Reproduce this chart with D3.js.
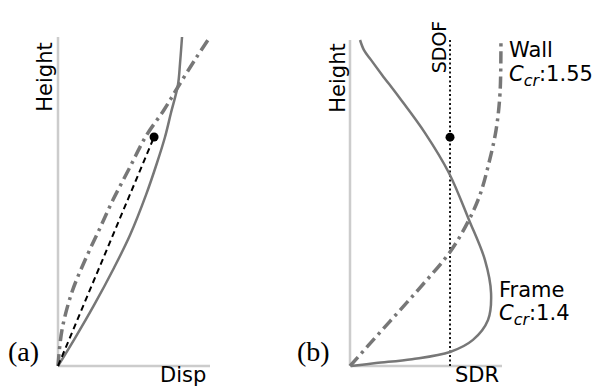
<!DOCTYPE html>
<html>
<head>
<meta charset="utf-8">
<script src="https://cdn.jsdelivr.net/npm/d3@7"></script>
<style>
  body { margin: 0; background: #fff; }
  svg { display: block; }
  .lbl { font-family: "DejaVu Sans", sans-serif; font-size: 21px; fill: #000; }
  .tag { font-family: "Liberation Serif", serif; font-size: 28px; fill: #000; }
</style>
</head>
<body>
<svg id="chart" width="598" height="389"></svg>
<script>
// ======================
// DATA  [displacement, height] (normalised 0..1)
// ======================

// panel (a)
const aFrame = [[0, 0], [0.112, 0.085], [0.237, 0.185], [0.368, 0.298], [0.474, 0.398],
    [0.579, 0.520], [0.651, 0.617], [0.704, 0.696], [0.743, 0.769], [0.789, 0.854],
    [0.803, 0.921], [0.816, 1.0]];
const aWall = [[0, 0], [0.026, 0.109], [0.092, 0.225], [0.184, 0.328], [0.276, 0.419],
    [0.362, 0.505], [0.474, 0.605], [0.579, 0.699], [0.697, 0.778], [0.789, 0.848],
    [0.908, 0.936], [1.0, 1.0]];
const aSdof = [[0, 0], [0.632, 0.696]];
const aPoint = [0.632, 0.696];

// panel (b)
const bFrame = [[0.066, 1.0], [0.092, 0.969], [0.138, 0.939], [0.211, 0.893], [0.322, 0.825],
    [0.493, 0.715], [0.651, 0.592], [0.783, 0.448], [0.888, 0.325], [0.928, 0.224],
    [0.908, 0.141], [0.809, 0.080], [0.658, 0.043], [0.408, 0.021], [0.171, 0.009], [0.007, 0]];
const bWall = [[0, 0], [0.224, 0.117], [0.447, 0.233], [0.658, 0.350], [0.776, 0.442],
    [0.855, 0.525], [0.914, 0.623], [0.961, 0.724], [0.987, 0.837], [0.993, 1.0]];
const bSdofX = 0.658;
const bPoint = [0.658, 0.702];

const curveColor = "#777";
const axisColor = "#ccc";

const svg = d3.select("#chart");

// ======================
// PANEL FACTORY
// ======================

function makePanel(x0, x1, yTop) {
    const x = d3.scaleLinear().domain([0, 1]).range([x0, x1]);
    const y = d3.scaleLinear().domain([0, 1]).range([366, yTop]);
    const g = svg.append("g");

    // axes (plain lines, no ticks)
    g.append("line")
        .attr("x1", x(0)).attr("x2", x(0))
        .attr("y1", y(0)).attr("y2", y(1))
        .attr("stroke", axisColor).attr("stroke-width", 2.5);
    g.append("line")
        .attr("x1", x(0)).attr("x2", x(1))
        .attr("y1", y(0)).attr("y2", y(0))
        .attr("stroke", axisColor).attr("stroke-width", 2.5);

    const line = d3.line()
        .x(d => x(d[0]))
        .y(d => y(d[1]))
        .curve(d3.curveCatmullRom.alpha(0.5));

    return { x, y, g, line };
}

function drawSolid(p, data) {
    p.g.append("path")
        .attr("d", p.line(data))
        .attr("fill", "none")
        .attr("stroke", curveColor)
        .attr("stroke-width", 2.5);
}

function drawDashDot(p, data) {
    p.g.append("path")
        .attr("d", p.line(data))
        .attr("fill", "none")
        .attr("stroke", curveColor)
        .attr("stroke-width", 3.5)
        .attr("stroke-dasharray", "12,5,3,5");
}

function rotLabel(px, py, text, size) {
    svg.append("text")
        .attr("class", "lbl")
        .attr("text-anchor", "middle")
        .style("font-size", size ? size + "px" : null)
        .attr("transform", `translate(${px},${py}) rotate(-90)`)
        .text(text);
}

function ccrLabel(px, py, value) {
    const t = svg.append("text").attr("class", "lbl").attr("x", px).attr("y", py);
    t.append("tspan").attr("font-style", "italic").text("C");
    t.append("tspan").attr("font-style", "italic").attr("font-size", "16px").attr("dy", 5).text("cr");
    t.append("tspan").attr("dy", -5).text(":" + value);
}

// ======================
// PANEL (a)
// ======================

const pa = makePanel(58, 210, 37);
drawDashDot(pa, aWall);
drawSolid(pa, aFrame);
pa.g.append("path")
    .attr("d", d3.line().x(d => pa.x(d[0])).y(d => pa.y(d[1]))(aSdof))
    .attr("fill", "none")
    .attr("stroke", "#000")
    .attr("stroke-width", 2)
    .attr("stroke-dasharray", "6,4");
pa.g.append("circle")
    .attr("cx", pa.x(aPoint[0])).attr("cy", pa.y(aPoint[1]))
    .attr("r", 4.5).attr("fill", "#000");

rotLabel(52, 77, "Height");
svg.append("text").attr("class", "lbl").attr("x", 160).attr("y", 382).text("Disp");
svg.append("text").attr("class", "tag").attr("x", 8).attr("y", 361).text("(a)");

// ======================
// PANEL (b)
// ======================

const pb = makePanel(350, 502, 40);
pb.g.append("line")
    .attr("x1", pb.x(bSdofX)).attr("x2", pb.x(bSdofX))
    .attr("y1", pb.y(0)).attr("y2", pb.y(1))
    .attr("stroke", "#000")
    .attr("stroke-width", 1.8)
    .attr("stroke-dasharray", "2,2.5");
drawDashDot(pb, bWall);
drawSolid(pb, bFrame);
pb.g.append("circle")
    .attr("cx", pb.x(bPoint[0])).attr("cy", pb.y(bPoint[1]))
    .attr("r", 4.5).attr("fill", "#000");

rotLabel(345, 78, "Height");
rotLabel(446, 47, "SDOF", 19);
svg.append("text").attr("class", "lbl").attr("x", 455).attr("y", 382).text("SDR");
svg.append("text").attr("class", "tag").attr("x", 297).attr("y", 361).text("(b)");

svg.append("text").attr("class", "lbl").attr("x", 509).attr("y", 57).text("Wall");
ccrLabel(509, 81, "1.55");
svg.append("text").attr("class", "lbl").attr("x", 499).attr("y", 297).text("Frame");
ccrLabel(499, 320, "1.4");
</script>
</body>
</html>
